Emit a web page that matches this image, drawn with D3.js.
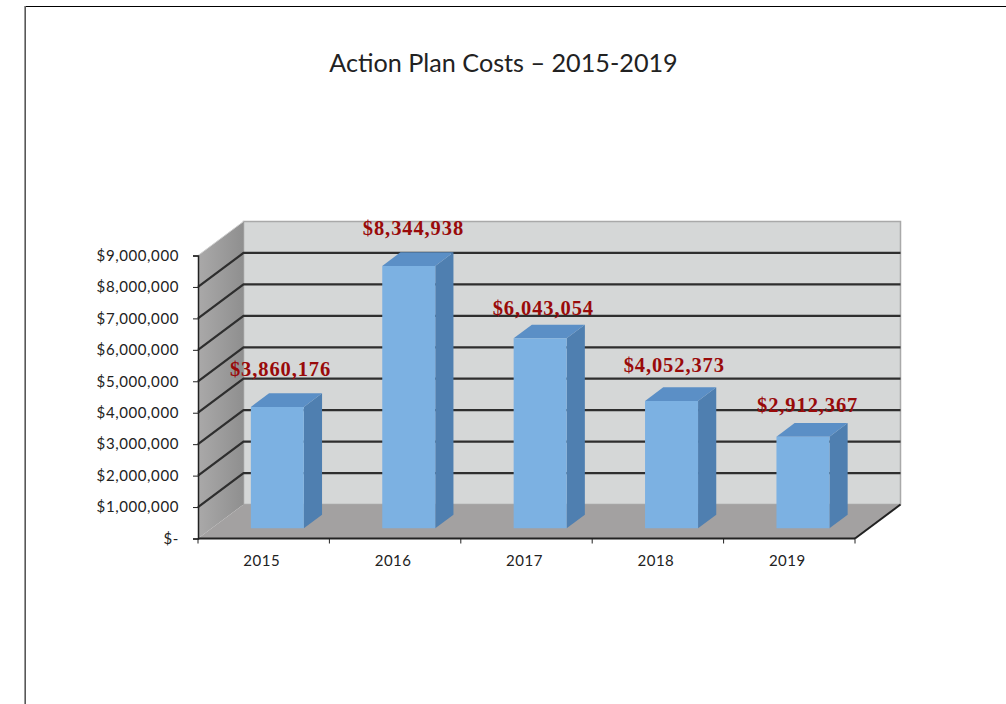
<!DOCTYPE html>
<html><head><meta charset="utf-8">
<script src="https://cdn.jsdelivr.net/npm/d3@7/dist/d3.min.js"></script>
<style>html,body{margin:0;background:#fff}svg{display:block}</style></head>
<body><svg id="c" width="1006" height="704"></svg>
<script>
const categories = ["2015","2016","2017","2018","2019"];
const costs = [3860176,8344938,6043054,4052373,2912367];
const costLabels = ["$3,860,176","$8,344,938","$6,043,054","$4,052,373","$2,912,367"];
const yTicks = [0,1e6,2e6,3e6,4e6,5e6,6e6,7e6,8e6,9e6];
const titleText = "Action Plan Costs \u2013 2015-2019";

const svg = d3.select("#c");
const axisFont = "Lato, 'Open Sans', sans-serif";
const x = d3.scaleBand().domain(categories).range([198,855]);
const y = d3.scaleLinear().domain([0,9e6]).range([538.5,255.5]);
// oblique depth: 0 = front of the floor, 1 = back wall
const DX = 45.5, DY = -34;
const P = (px, v, d) => [px + DX*d, y(v) + DY*d];
const path = pts => "M" + pts.map(p=>p.join(",")).join("L") + "Z";

// page frame
svg.append("path").attr("d","M25.5,704V6.5H1006").attr("fill","none").attr("stroke","#000").attr("stroke-width",1);
svg.append("line").attr("x1",25).attr("x2",25).attr("y1",6).attr("y2",704).attr("stroke","#777").attr("stroke-width",1.5);

svg.append("text").attr("x",503.5).attr("y",72).attr("text-anchor","middle")
  .attr("font-family",axisFont).attr("font-size",25.2).attr("fill","#222").text(titleText);

const [x0,x1] = x.range(), yMax = 9e6;
const defs = svg.append("defs");
const g = defs.append("linearGradient").attr("id","side").attr("x1",0).attr("x2",1).attr("y1",0).attr("y2",0);
g.append("stop").attr("offset",0).attr("stop-color","#aaa9a9");
g.append("stop").attr("offset",1).attr("stop-color","#8f8f8f");

// back wall
svg.append("path").attr("d",path([P(x0,0,1),P(x1,0,1),P(x1,yMax,1),P(x0,yMax,1)]))
  .attr("fill","#d5d7d7").attr("stroke","#a9a9a9").attr("stroke-width",1.5);
// side wall
svg.append("path").attr("d",path([P(x0,0,0),P(x0,0,1),P(x0,yMax,1),P(x0,yMax,0)])).attr("fill","url(#side)");
// floor
svg.append("path").attr("d",path([P(x0,0,0),P(x1,0,0),P(x1,0,1),P(x0,0,1)])).attr("fill","#a3a1a1");

// grid lines
yTicks.filter(t=>t>0 && t<yMax).forEach(t=>{
  const a=P(x0,t,0), b=P(x0,t,1), c=P(x1,t,1);
  svg.append("path").attr("d","M"+a+"L"+b+"L"+c).attr("fill","none").attr("stroke","#2e2e2e").attr("stroke-width",2.2);
});
svg.append("line").attr("x1",P(x0,yMax,0)[0]).attr("y1",P(x0,yMax,0)[1]).attr("x2",P(x0,yMax,1)[0]).attr("y2",P(x0,yMax,1)[1])
  .attr("stroke","#cfcfcf").attr("stroke-width",1);
// right floor edge
svg.append("line").attr("x1",P(x1,0,0)[0]).attr("y1",P(x1,0,0)[1]).attr("x2",P(x1,0,1)[0]).attr("y2",P(x1,0,1)[1])
  .attr("stroke","#222").attr("stroke-width",2);

// bars
const D0 = 0.3, D1 = 0.7, barW = 53;
const barX = c => x(c) + (x.bandwidth()-barW)/2;
categories.forEach((c,i)=>{
  const v = costs[i], l = barX(c), r = l+barW;
  svg.append("path").attr("d",path([P(r,0,D0),P(r,0,D1),P(r,v,D1),P(r,v,D0)])).attr("fill","#4f7fb0");
  svg.append("path").attr("d",path([P(l,v,D0),P(r,v,D0),P(r,v,D1),P(l,v,D1)])).attr("fill","#5b8fc6");
  svg.append("path").attr("d",path([P(l,0,D0),P(r,0,D0),P(r,v,D0),P(l,v,D0)])).attr("fill","#7cb1e2");
});

// axes
const yAxis = d3.axisLeft(y).tickValues(yTicks).tickSize(5).tickPadding(14)
  .tickFormat(d => d===0 ? "$-" : "$"+d3.format(",")(d));
const ya = svg.append("g").attr("transform",`translate(${x0},0)`).call(yAxis);
ya.selectAll("text").attr("font-family",axisFont).attr("font-size",15).attr("fill","#222").attr("letter-spacing",0.6);
ya.selectAll("line,path").attr("stroke","#222");
ya.select(".domain").attr("stroke-width",1.5);

const xa = svg.append("g").attr("transform",`translate(0,${y(0)})`);
xa.append("line").attr("x1",x0).attr("x2",x1).attr("stroke","#222").attr("stroke-width",2);
d3.range(categories.length+1).forEach(i=>{
  const px = x0 + i*x.step();
  xa.append("line").attr("x1",px).attr("x2",px).attr("y1",0).attr("y2",5).attr("stroke","#222");
});
xa.selectAll("text").data(categories).join("text")
  .attr("x",d=>x(d)+x.bandwidth()/2-2).attr("y",27).attr("text-anchor","middle")
  .attr("font-family",axisFont).attr("font-size",15).attr("fill","#222").attr("letter-spacing",0.5).text(d=>d);

// data labels
const nudge = [[-15,-31.5],[-13.5,-31.5],[-15,-23.5],[-15.5,-29],[-13.5,-25.5]];
categories.forEach((c,i)=>{
  const l = barX(c), t = P(l+barW/2, costs[i], D1);
  svg.append("text").attr("x",t[0]+nudge[i][0]).attr("y",t[1]+nudge[i][1]+14).attr("text-anchor","middle")
    .attr("font-family","'Liberation Serif', serif").attr("font-weight","bold").attr("font-size",20.5)
    .attr("fill","#990a0a").attr("letter-spacing",0.9).text(costLabels[i]);
});
</script></body></html>
